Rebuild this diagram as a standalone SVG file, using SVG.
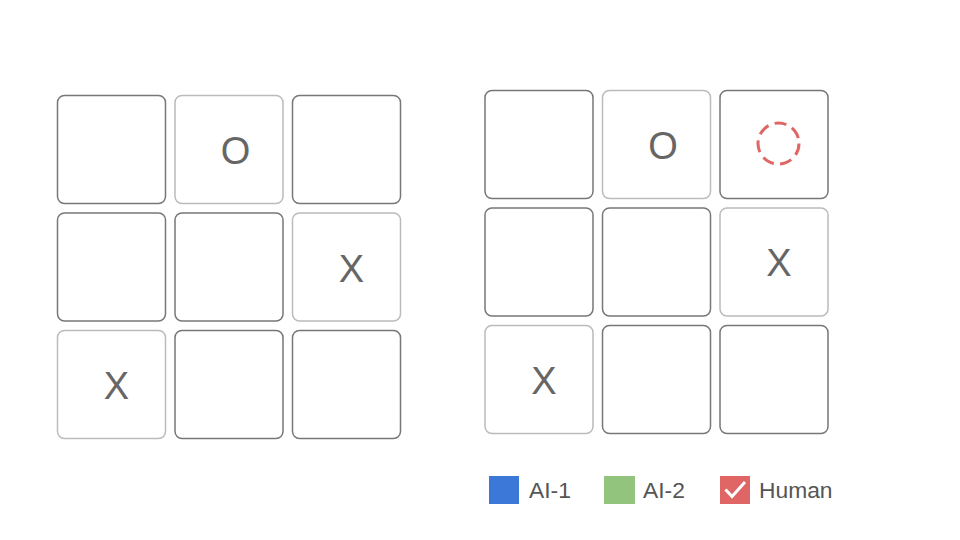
<svg xmlns="http://www.w3.org/2000/svg" width="960" height="540" viewBox="0 0 960 540">
<style>
.cell{fill:#fff;stroke:#777;stroke-width:1.5}
.cell.lt{stroke:#bbb}
.mark{font-family:"Liberation Sans",Arial,sans-serif;font-size:38px;fill:#666;text-anchor:middle}
.leg{font-family:"Liberation Sans",Arial,sans-serif;font-size:22.8px;fill:#555}
</style>
<rect width="960" height="540" fill="#fff"/>
<g id="board-left">
<g id="L00"><rect class="cell" x="57.5" y="95.5" width="108" height="108" rx="7"/></g>
<g id="L01"><rect class="cell lt" x="175" y="95.5" width="108" height="108" rx="7"/><text class="mark" x="235.5" y="163.5">O</text></g>
<g id="L02"><rect class="cell" x="292.5" y="95.5" width="108" height="108" rx="7"/></g>
<g id="L10"><rect class="cell" x="57.5" y="213" width="108" height="108" rx="7"/></g>
<g id="L11"><rect class="cell" x="175" y="213" width="108" height="108" rx="7"/></g>
<g id="L12"><rect class="cell lt" x="292.5" y="213" width="108" height="108" rx="7"/><text class="mark" x="351.5" y="281.5">X</text></g>
<g id="L20"><rect class="cell lt" x="57.5" y="330.5" width="108" height="108" rx="7"/><text class="mark" x="116.5" y="399">X</text></g>
<g id="L21"><rect class="cell" x="175" y="330.5" width="108" height="108" rx="7"/></g>
<g id="L22"><rect class="cell" x="292.5" y="330.5" width="108" height="108" rx="7"/></g>
</g>
<g id="board-right">
<g id="R00"><rect class="cell" x="485" y="90.5" width="108" height="108" rx="7"/></g>
<g id="R01"><rect class="cell lt" x="602.5" y="90.5" width="108" height="108" rx="7"/><text class="mark" x="663" y="158.5">O</text></g>
<g id="R02"><rect class="cell" x="720" y="90.5" width="108" height="108" rx="7"/><circle cx="778.5" cy="143.5" r="20.5" fill="none" stroke="#e06666" stroke-width="3" stroke-dasharray="12 6.4"/></g>
<g id="R10"><rect class="cell" x="485" y="208" width="108" height="108" rx="7"/></g>
<g id="R11"><rect class="cell" x="602.5" y="208" width="108" height="108" rx="7"/></g>
<g id="R12"><rect class="cell lt" x="720" y="208" width="108" height="108" rx="7"/><text class="mark" x="779" y="276">X</text></g>
<g id="R20"><rect class="cell lt" x="485" y="325.5" width="108" height="108" rx="7"/><text class="mark" x="544" y="393.5">X</text></g>
<g id="R21"><rect class="cell" x="602.5" y="325.5" width="108" height="108" rx="7"/></g>
<g id="R22"><rect class="cell" x="720" y="325.5" width="108" height="108" rx="7"/></g>
</g>
<g id="connectors"></g>
<g id="legend">
<g id="leg-ai1"><rect x="489" y="476" width="30" height="28" fill="#3c78d8"/><text class="leg" x="529" y="498">AI-1</text></g>
<g id="leg-ai2"><rect x="604" y="476" width="31" height="28" fill="#93c47d"/><text class="leg" x="643" y="498">AI-2</text></g>
<g id="leg-human"><rect x="720" y="476" width="30" height="28" fill="#e06666"/><polyline points="725.5,489.5 732,496.5 745,482" fill="none" stroke="#fff" stroke-width="3"/><text class="leg" x="759" y="498">Human</text></g>
</g>
</svg>
